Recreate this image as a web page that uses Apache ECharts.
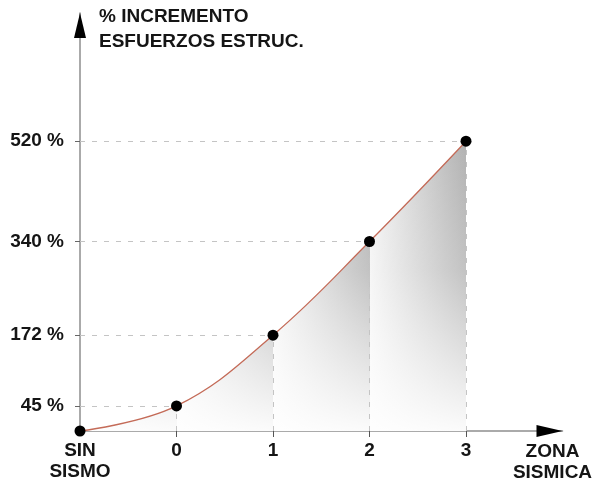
<!DOCTYPE html>
<html>
<head>
<meta charset="utf-8">
<script src="https://cdn.jsdelivr.net/npm/echarts@6/dist/echarts.min.js"></script>
<style>
  html, body { margin: 0; padding: 0; background: #ffffff; }
  #chart { width: 596px; height: 487px; }
</style>
</head>
<body>
<div id="chart"></div>
<script>
// Seismic zone (-1 stands for "no earthquake") and structural load increase (%)
const zones = [-1, 0, 1, 2, 3];
const zoneLabels = ['SIN\nSISMO', '0', '1', '2', '3'];
const increments = [0, 45, 172, 340, 520];
const yTickValues = [45, 172, 340, 520];
const yTickLabels = ['45 %', '172 %', '340 %', '520 %'];

const FONT = 'Liberation Sans';
const TEXT_COLOR = '#151515';
const AXIS_COLOR = '#8e8e8e';
const X_MIN = -1, X_MAX = 4, Y_MAX = 750;
const LABEL_FONT = 'bold 19px "' + FONT + '", Arial, sans-serif';

const points = zones.map((z, i) => [z, increments[i]]);

// Drop lines from each point to both axes
const dropLines = [];
for (let i = 1; i < points.length; i++) {
  const [x, v] = points[i];
  dropLines.push([{ coord: [X_MIN, v] }, { coord: [x, v] }]);
  dropLines.push([{ coord: [x, 0] }, { coord: [x, v] }]);
}

// Horizontal saw-tooth shading: each span between zones darkens toward its right end
const segCount = points.length - 1;
const sawStops = [];
for (let k = 0; k < segCount; k++) {
  const a = k / segCount, b = (k + 1) / segCount;
  sawStops.push({ offset: k === 0 ? a : a + 0.0005, color: '#f4f4f4' });
  sawStops.push({ offset: b, color: '#b2b2b2' });
}

const chart = echarts.init(document.getElementById('chart'), null, { renderer: 'canvas' });

chart.setOption({
  animation: false,
  backgroundColor: '#ffffff',
  textStyle: { fontFamily: FONT },
  grid: { left: 80, right: 33.5, top: 13, bottom: 56, containLabel: false },
  xAxis: {
    type: 'value',
    min: X_MIN,
    max: X_MAX,
    axisLine: { show: true, onZero: false, lineStyle: { color: AXIS_COLOR, width: 1.5 } },
    axisTick: { show: true, customValues: zones.slice(1), length: 6, lineStyle: { color: '#555', width: 1 } },
    axisLabel: {
      customValues: zones,
      formatter: (v) => zoneLabels[zones.indexOf(v)],
      margin: 9,
      lineHeight: 21,
      color: TEXT_COLOR,
      fontFamily: FONT,
      fontSize: 19,
      fontWeight: 'bold'
    },
    splitLine: { show: false }
  },
  yAxis: {
    type: 'value',
    min: 0,
    max: Y_MAX,
    axisLine: { show: true, onZero: false, lineStyle: { color: AXIS_COLOR, width: 1.5 } },
    axisTick: { show: true, customValues: yTickValues, length: 5, lineStyle: { color: '#666', width: 1 } },
    axisLabel: { show: false },
    splitLine: { show: false }
  },
  series: [
    {
      // base shading under the curve
      type: 'line',
      data: points,
      smooth: 0.4,
      symbol: 'none',
      lineStyle: { width: 0 },
      areaStyle: {
        opacity: 1,
        color: new echarts.graphic.LinearGradient(0, 0, 1, 0, sawStops)
      },
      markLine: {
        silent: true,
        symbol: ['none', 'none'],
        label: { show: false },
        lineStyle: { color: '#c4c4c4', width: 1, type: [5, 7] },
        data: dropLines
      },
      z: 1
    },
    {
      // fade the shading toward the baseline
      type: 'line',
      data: points,
      smooth: 0.4,
      symbol: 'none',
      lineStyle: { width: 0 },
      areaStyle: {
        opacity: 1,
        color: new echarts.graphic.LinearGradient(0, 0, 0, 1, [
          { offset: 0, color: 'rgba(255,255,255,0)' },
          { offset: 0.45, color: 'rgba(255,255,255,0.22)' },
          { offset: 1, color: 'rgba(255,255,255,0.95)' }
        ])
      },
      z: 2
    },
    {
      // the curve
      type: 'line',
      data: points,
      smooth: 0.4,
      symbol: 'none',
      lineStyle: { color: '#c46b58', width: 1.3 },
      z: 3
    },
    {
      // the points
      type: 'scatter',
      data: points,
      symbol: 'circle',
      symbolSize: 11,
      itemStyle: { color: '#000000', borderWidth: 0, opacity: 1 },
      emphasis: { disabled: true },
      z: 5
    }
  ]
});

// Arrow heads, value labels on the y axis and the axis titles, placed from the axis scales
const origin = chart.convertToPixel({ gridIndex: 0 }, [X_MIN, 0]);
const xEnd = chart.convertToPixel({ gridIndex: 0 }, [X_MAX, 0]);
const yEnd = chart.convertToPixel({ gridIndex: 0 }, [X_MIN, Y_MAX]);

const yLabelTexts = yTickValues.map((v, i) => {
  const p = chart.convertToPixel({ gridIndex: 0 }, [X_MIN, v]);
  return {
    type: 'text',
    x: p[0] - 16,
    y: p[1],
    style: {
      text: yTickLabels[i],
      fill: TEXT_COLOR,
      font: LABEL_FONT,
      align: 'right',
      verticalAlign: 'middle'
    }
  };
});

chart.setOption({
  graphic: [
    {
      type: 'polygon',
      shape: { points: [[xEnd[0], origin[1]], [xEnd[0] - 26, origin[1] - 6], [xEnd[0] - 26, origin[1] + 6]] },
      style: { fill: '#000' },
      z: 10
    },
    {
      type: 'polygon',
      shape: { points: [[origin[0], yEnd[1]], [origin[0] - 6, yEnd[1] + 25], [origin[0] + 6, yEnd[1] + 25]] },
      style: { fill: '#000' },
      z: 10
    },
    {
      type: 'text',
      x: origin[0] + 19,
      y: 4,
      style: {
        text: '% INCREMENTO\nESFUERZOS ESTRUC.',
        fill: TEXT_COLOR,
        font: LABEL_FONT,
        lineHeight: 25,
        align: 'left',
        verticalAlign: 'top'
      }
    },
    {
      type: 'text',
      x: xEnd[0] - 10,
      y: origin[1] + 10,
      style: {
        text: 'ZONA\nSISMICA',
        fill: TEXT_COLOR,
        font: LABEL_FONT,
        lineHeight: 21,
        align: 'center',
        verticalAlign: 'top'
      }
    }
  ].concat(yLabelTexts)
});
</script>
</body>
</html>
